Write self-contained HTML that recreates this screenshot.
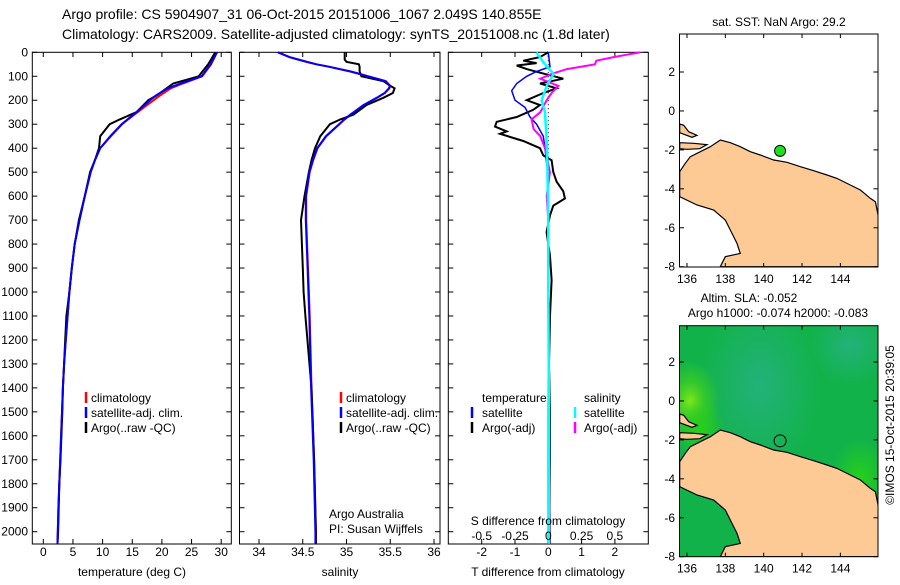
<!DOCTYPE html>
<html><head><meta charset="utf-8"><style>
body{margin:0;background:#fff}
svg text{font-family:"Liberation Sans",sans-serif;font-size:12px;fill:#000}
</style></head><body>
<svg id="c" width="900" height="580" xmlns="http://www.w3.org/2000/svg">
<defs>
<radialGradient id="lime" cx="0.5" cy="0.5" r="0.5"><stop offset="0" stop-color="#7ee81a"/><stop offset="0.5" stop-color="#40d020" stop-opacity="0.7"/><stop offset="1" stop-color="#40d020" stop-opacity="0"/></radialGradient>
<radialGradient id="teal" cx="0.5" cy="0.5" r="0.5"><stop offset="0" stop-color="#22b27a"/><stop offset="1" stop-color="#22b27a" stop-opacity="0"/></radialGradient>
<radialGradient id="brgt" cx="0.5" cy="0.5" r="0.5"><stop offset="0" stop-color="#28d018"/><stop offset="1" stop-color="#28d018" stop-opacity="0"/></radialGradient>
<clipPath id="m2clip"><rect x="679.5" y="325.7" width="198.5" height="231"/></clipPath>
<clipPath id="m1clip"><rect x="679.5" y="34" width="198.5" height="233"/></clipPath>
</defs>
</svg>
<script>
// ---- data ----
const depthT=[0,50,100,130,150,180,200,250,280,300,350,400,450,500,600,700,800,900,1000,1100,1200,1300,1400,1500,1600,1700,1800,1900,2000,2050];
const argoTemp=[29.0,27.8,26.2,21.9,20.8,19.1,17.7,15.7,12.9,11.2,9.6,9.4,8.7,7.9,7.0,6.0,5.3,4.8,4.4,3.9,3.7,3.5,3.3,3.2,3.05,2.9,2.7,2.6,2.5,2.4];
const climTemp=[29.3,28.3,26.8,23.5,21.5,19.7,18.6,15.9,14.3,13.3,11.4,9.6,8.7,8.0,7.0,6.1,5.3,4.8,4.4,4.1,3.8,3.5,3.3,3.15,3.0,2.85,2.7,2.55,2.45,2.4];
const satTemp=[29.3,28.2,26.7,23.2,21.0,19.0,18.0,15.7,14.2,13.2,11.3,9.6,8.7,8.0,7.0,6.1,5.3,4.8,4.4,4.1,3.8,3.5,3.3,3.15,3.0,2.85,2.7,2.55,2.45,2.4];
const depthS=[0,20,30,40,50,60,80,90,100,120,140,150,170,190,220,260,280,300,350,400,450,500,600,700,800,900,1000,1100,1400,1700,2000,2050];
const argoSal=[34.98,34.98,34.98,35.0,35.14,35.15,35.15,35.16,35.17,35.42,35.5,35.55,35.53,35.42,35.23,35.08,34.93,34.81,34.70,34.64,34.60,34.57,34.52,34.48,34.49,34.50,34.51,34.53,34.6,34.63,34.65,34.65];
const climSal=[34.22,34.35,34.45,34.55,34.66,34.8,35.05,35.15,35.25,35.45,35.5,35.49,35.44,35.35,35.2,35.05,34.98,34.92,34.77,34.67,34.62,34.58,34.54,34.54,34.55,34.56,34.57,34.58,34.6,34.63,34.65,34.65];
const depthD=[0,20,35,45,55,70,85,110,130,150,170,200,220,240,270,290,310,330,340,370,400,430,450,500,540,580,610,640,680,750,850,950,1100,1300,1500,1700,1900,2050];
const argoTdiff=[0,-0.25,-0.75,-0.35,-0.95,-0.65,-0.25,0.45,-0.25,0.25,-0.15,-0.65,-0.25,-0.45,-0.95,-1.55,-1.6,-1.25,-1.45,-0.75,-0.25,-0.15,0.1,0.15,0.25,0.45,0.5,0.15,0.05,-0.05,0.05,0.1,0.05,0.02,0.05,0.05,0.04,0.05];
const depthB=[0,60,80,100,130,160,200,230,270,300,350,400,500,1000,1500,2050];
const satTdiff=[0,0.05,-0.35,-0.65,-0.95,-1.1,-1.0,-0.7,-0.55,-0.35,-0.15,-0.1,-0.02,0,0,0];
const depthM=[0,10,20,35,50,70,90,110,140,170,200,250,280,320,350,400,500,600,700,1000,1500,1850,2050];
const argoSdiff=[0.69,0.59,0.49,0.36,0.35,0.14,0.025,-0.06,0.075,0.025,-0.012,-0.06,-0.125,-0.11,-0.06,-0.025,0.012,-0.012,0,0.0,0.005,0.01,0.01];
const depthC=[0,50,90,140,200,250,400,700,1000,1500,2050];
const satSdiff=[-0.09,-0.025,0.04,-0.012,-0.05,-0.025,-0.01,0,0,0.005,0.005];
const depthTicks=[0,100,200,300,400,500,600,700,800,900,1000,1100,1200,1300,1400,1500,1600,1700,1800,1900,2000];
const tempTicks=[0,5,10,15,20,25,30];
const salTicks=[34,34.5,35,35.5,36];
const tdTicks=[-2,-1,0,1,2];
const sdTicks=[-0.5,-0.25,0,0.25,0.5];
const latTicks=[2,0,-2,-4,-6,-8];
const lonTicks=[136,138,140,142,144];
const argoLon=140.855, argoLat=-2.049;

// ---- helpers ----
const S=document.getElementById('c');const NS='http://www.w3.org/2000/svg';
function el(tag,attrs,parent){const e=document.createElementNS(NS,tag);for(const k in attrs)e.setAttribute(k,attrs[k]);(parent||S).appendChild(e);return e;}
function txt(x,y,s,anchor,name,extra){const t=el('text',Object.assign({x:x,y:y,'text-anchor':anchor||'start'},extra||{}));t.textContent=s;


return t;}
const Y=d=>52.3+d*0.2397;
const PB=544;
function line(xs,ds,fx,color,w,name){const p=xs.map((v,i)=>fx(v).toFixed(1)+','+Y(ds[i]).toFixed(1)).join(' ');
const e=el('polyline',{points:p,fill:'none',stroke:color,'stroke-width':w});

}
function frame(x0,x1,name){const r=el('rect',{x:x0,y:52.3,width:x1-x0,height:PB-52.3,fill:'none',stroke:'#000','stroke-width':1});

}
function xticks(vals,f,y0,y1,lab){vals.forEach(v=>{const x=f(v);el('line',{x1:x,x2:x,y1:52.3,y2:57,stroke:'#000'});el('line',{x1:x,x2:x,y1:PB,y2:PB-5,stroke:'#000'});if(lab)txt(x,556,String(v),'middle','x-tick-label');});}
function dticks(x0,x1){depthTicks.forEach(d=>{el('line',{x1:x0,x2:x0+5,y1:Y(d),y2:Y(d),stroke:'#000'});el('line',{x1:x1,x2:x1-5,y1:Y(d),y2:Y(d),stroke:'#000'});});}
function legBar(x,y,c){const b=el('line',{x1:x,x2:x,y1:y-11,y2:y,stroke:c,'stroke-width':2.5});

}

// titles
txt(62,19,'Argo profile: CS 5904907_31 06-Oct-2015 20151006_1067 2.049S 140.855E','start','title-line-1',{style:'font-size:14px'});
txt(62,39,'Climatology: CARS2009. Satellite-adjusted climatology: synTS_20151008.nc (1.8d later)','start','title-line-2',{style:'font-size:14px'});

// panel 1 temperature
const fT=v=>43.3+v*5.93;
frame(32.3,231.3,'temperature-panel');dticks(32.3,231.3);xticks(tempTicks,fT,0,0,true);
depthTicks.forEach(d=>txt(28,Y(d)+4,String(d),'end','depth-tick-label'));
line(climTemp,depthT,fT,'#f00',2,'temp-climatology-line');
line(argoTemp,depthT,fT,'#000',2,'temp-argo-line');
line(satTemp,depthT,fT,'#00f',2,'temp-satellite-line');
txt(132,576,'temperature (deg C)','middle','temperature-axis-title');
legBar(86,403,'#f00');txt(91,402,'climatology','start','legend-climatology');
legBar(86,418,'#00f');txt(91,417,'satellite-adj. clim.','start','legend-satellite');
legBar(86,433,'#000');txt(91,432,'Argo(..raw -QC)','start','legend-argo');

// panel 2 salinity
const fS=v=>259+(v-34)*87.5;
frame(239.5,440,'salinity-panel');dticks(239.5,440);xticks(salTicks,fS,0,0,true);
line(climSal,depthS,fS,'#f00',2,'sal-climatology-line');
line(argoSal,depthS,fS,'#000',2,'sal-argo-line');
line(climSal.map(v=>v-0.005),depthS,fS,'#00f',2,'sal-satellite-line');
txt(340,576,'salinity','middle','salinity-axis-title');
legBar(341,403,'#f00');txt(346,402,'climatology','start','legend-climatology-2');
legBar(341,418,'#00f');txt(346,417,'satellite-adj. clim.','start','legend-satellite-2');
legBar(341,433,'#000');txt(346,432,'Argo(..raw -QC)','start','legend-argo-2');
txt(329,518,'Argo Australia','start','institution-label');
txt(329,533,'PI: Susan Wijffels','start','pi-label');

// panel 3 differences
const fD=v=>548.3+v*33.3;const fSD=v=>548.3+v*4*33.3;
frame(448.3,648.3,'difference-panel');dticks(448.3,648.3);xticks(tdTicks,fD,0,0,true);
el('line',{x1:fD(0),x2:fD(0),y1:52.3,y2:PB,stroke:'#000','stroke-dasharray':'1,3'});
line(argoTdiff,depthD,fD,'#000',2,'tdiff-argo-line');
line(satTdiff,depthB,fD,'#00f',1.5,'tdiff-satellite-line');
line(argoSdiff,depthM,fSD,'#f0f',2,'sdiff-argo-line');
line(satSdiff,depthC,fSD,'#0ff',2.5,'sdiff-satellite-line');
sdTicks.forEach(v=>txt(fSD(v),540,String(v),'middle','s-diff-tick-label'));
txt(548,525,'S difference from climatology','middle','s-diff-axis-title');
txt(548,576,'T difference from climatology','middle','t-diff-axis-title');
txt(482,402,'temperature','start','legend-temperature-header');
legBar(472,418,'#00f');txt(482,417,'satellite','start','legend-t-satellite');
legBar(472,433,'#000');txt(482,432,'Argo(-adj)','start','legend-t-argo');
txt(584,402,'salinity','start','legend-salinity-header');
legBar(575,418,'#0ff');txt(584,417,'satellite','start','legend-s-satellite');
legBar(575,433,'#f0f');txt(584,432,'Argo(-adj)','start','legend-s-argo');

// ---- maps ----
const zx=x=>136+(x-80)/57.5, zy=y=>2-(y-216)/58.4;
const landMain=[[58,515],[75,490],[90,470],[120,455],[150,440],[180,420],[210,428],[240,440],[270,455],[300,465],[340,480],[380,487],[420,500],[460,512],[500,525],[530,535],[560,550],[600,570],[630,595],[645,605],[654,650],[654,800],[180,800],[195,770],[240,760],[230,730],[210,690],[195,660],[160,630],[110,615],[58,590]];
const landNW=[[58,372],[70,376],[85,395],[110,406],[95,412],[58,398]];
const landIsl=[[58,428],[100,430],[140,434],[118,446],[80,448],[58,446]];
function drawMap(top,yref,name,green){
 const mx=lon=>687+(lon-136)*19.17, my=lat=>yref+(2-lat)*19.47;
 const g=el('g',{'clip-path':'url(#'+(green?'m2clip':'m1clip')+')'});
 
 
 const h=(green?556.7:267)-top;
 if(green){el('rect',{x:679.5,y:top,width:198.5,height:h,fill:'#12b24a'},g);
  el('ellipse',{cx:760,cy:top+60,rx:60,ry:90,fill:'url(#teal)'},g);
  el('ellipse',{cx:850,cy:top+20,rx:40,ry:40,fill:'url(#teal)'},g);
  el('ellipse',{cx:690,cy:my(0),rx:30,ry:40,fill:'url(#lime)'},g);
  el('ellipse',{cx:860,cy:my(-4),rx:30,ry:40,fill:'url(#brgt)'},g);
  el('ellipse',{cx:700,cy:my(-1.5),rx:25,ry:30,fill:'url(#brgt)'},g);}
 [landMain,landNW,landIsl].forEach((poly,i)=>{const p=poly.map(q=>mx(zx(q[0])).toFixed(1)+','+my(zy(q[1])).toFixed(1)).join(' ');
  const e=el('polygon',{points:p,fill:'#fdca96',stroke:'#000','stroke-width':1.2},g);
  
  });
 const fr=el('rect',{x:679.5,y:top,width:198.5,height:h,fill:'none',stroke:'#000'});
 
 
 latTicks.forEach(l=>{const y=my(l);el('line',{x1:679.5,x2:684,y1:y,y2:y,stroke:'#000'});el('line',{x1:878,x2:873.5,y1:y,y2:y,stroke:'#000'});txt(675,y+4,String(l),'end','lat-tick-label');});
 const bot=top+h;
 lonTicks.forEach(l=>{const x=mx(l);el('line',{x1:x,x2:x,y1:top,y2:top+4,stroke:'#000'});el('line',{x1:x,x2:x,y1:bot,y2:bot-4,stroke:'#000'});txt(x,bot+16,String(l),'middle','lon-tick-label');});
 const m=el('circle',{cx:mx(argoLon),cy:my(argoLat),r:green?6:5.5,fill:green?'none':'#1ee01e',stroke:'#000','stroke-width':1});
 
 
}
drawMap(34,72,'sst-map',false);
drawMap(325.7,362,'sla-map',true);
txt(779,26,'sat. SST: NaN Argo: 29.2','middle','sst-map-title');
txt(749,302,'Altim. SLA: -0.052','middle','sla-map-title');
txt(778,317,'Argo h1000: -0.074 h2000: -0.083','middle','sla-map-subtitle');
txt(0,0,'©IMOS 15-Oct-2015 20:39:05','middle','timestamp-label',{transform:'translate(894,425) rotate(-90)'});
</script>
</body></html>
